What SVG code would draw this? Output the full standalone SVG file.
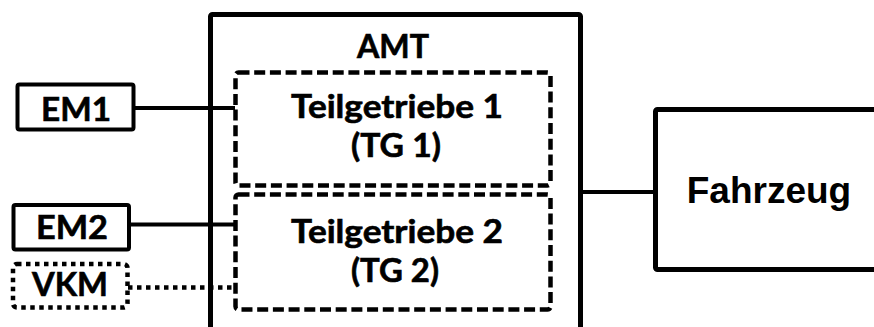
<svg xmlns="http://www.w3.org/2000/svg" width="874" height="327" viewBox="0 0 874 327">
  <style>
    .box { fill: #fff; stroke: #000; stroke-width: 5; }
    .small { fill: #fff; stroke: #000; stroke-width: 4; }
    .dash { fill: none; stroke: #000; stroke-width: 4.5; stroke-dasharray: 11 4.7; }
    .dot { fill: none; stroke: #000; stroke-width: 4.5; stroke-dasharray: 4.5 4.5; }
    .link { fill: none; stroke: #000; stroke-width: 4; }
    .lbl { font-family: Lato, "Liberation Sans", sans-serif; font-weight: 700; font-size: 32px; fill: #000; stroke: #000; stroke-width: 0.6; text-anchor: middle; }
    .arial { font-family: "Liberation Sans", Arial, sans-serif; font-weight: 700; font-size: 37px; fill: #000; text-anchor: middle; }
  </style>

  <!-- transmission housing -->
  <g id="amt">
    <rect class="box" x="210.5" y="14.5" width="370" height="400" rx="2"/>
    <text class="lbl" x="393" y="58" textLength="72" lengthAdjust="spacingAndGlyphs">AMT</text>
  </g>

  <!-- connectors -->
  <g id="connectors">
    <line class="link" x1="134" y1="108" x2="235" y2="108"/>
    <line class="link" x1="129" y1="224.5" x2="235" y2="224.5"/>
    <line class="dot" x1="128" y1="287.5" x2="235" y2="287.5"/>
    <line class="link" x1="580" y1="192" x2="655" y2="192"/>
  </g>

  <g id="tg1">
    <rect class="dash" x="235.5" y="72.5" width="315" height="113" rx="3"/>
    <text class="lbl" x="397" y="118" textLength="212" lengthAdjust="spacingAndGlyphs">Teilgetriebe 1</text>
    <text class="lbl" x="396" y="156.5" textLength="90" lengthAdjust="spacingAndGlyphs">(TG 1)</text>
  </g>

  <g id="tg2">
    <rect class="dash" x="235.5" y="194.5" width="315" height="115" rx="3"/>
    <text class="lbl" x="397" y="243" textLength="212" lengthAdjust="spacingAndGlyphs">Teilgetriebe 2</text>
    <text class="lbl" x="395" y="281.5" textLength="88" lengthAdjust="spacingAndGlyphs">(TG 2)</text>
  </g>

  <g id="em1">
    <rect class="small" x="17.5" y="84.5" width="116" height="45" rx="2"/>
    <text class="lbl" x="76" y="121" textLength="70" lengthAdjust="spacingAndGlyphs">EM1</text>
  </g>

  <g id="em2">
    <rect class="small" x="13.5" y="205" width="115.5" height="44.5" rx="2"/>
    <text class="lbl" x="72" y="238.5" textLength="72" lengthAdjust="spacingAndGlyphs">EM2</text>
  </g>

  <g id="vkm">
    <rect class="dot" x="13" y="264" width="114.5" height="43.5" rx="4"/>
    <text class="lbl" x="70" y="296" textLength="76" lengthAdjust="spacingAndGlyphs">VKM</text>
  </g>

  <g id="fahrzeug">
    <rect class="box" x="655.5" y="109.5" width="300" height="160" rx="2"/>
    <text class="arial" x="769" y="203">Fahrzeug</text>
  </g>
</svg>
